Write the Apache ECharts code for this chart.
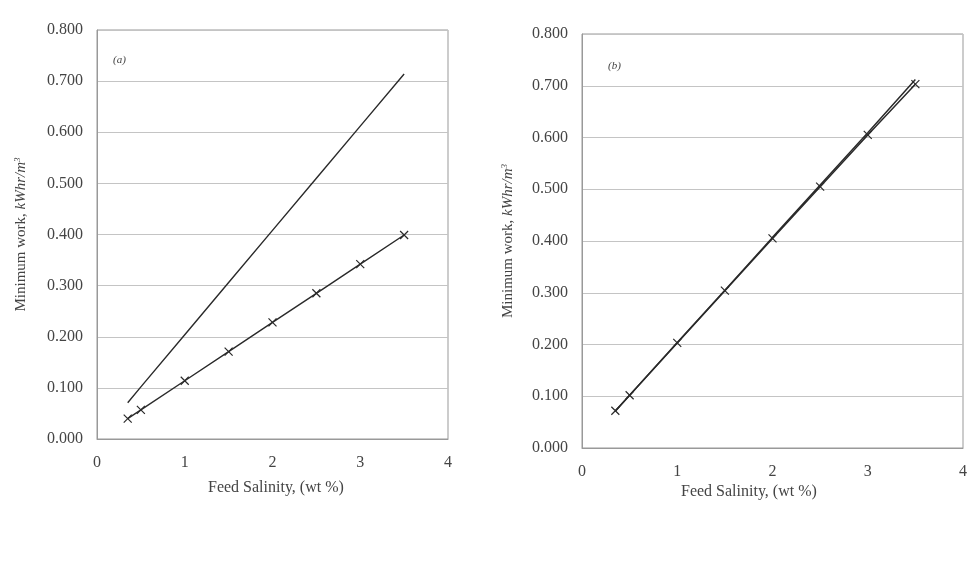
<!DOCTYPE html>
<html>
<head>
<meta charset="utf-8">
<script src="https://cdn.jsdelivr.net/npm/echarts@6/dist/echarts.min.js"></script>
<style>
  html, body { margin: 0; padding: 0; background: #fff; }
  #main { width: 977px; height: 570px; }
</style>
</head>
<body>
<div id="main"></div>
<script>
// feed salinity, wt %
const salinity = [0.35, 0.5, 1, 1.5, 2, 2.5, 3, 3.5];

// panel (a)
const aUpper = [0.071, 0.102, 0.204, 0.306, 0.408, 0.510, 0.612, 0.714];
const aLower = [0.040, 0.057, 0.114, 0.171, 0.228, 0.285, 0.342, 0.399];

// panel (b)
const bMarked = [0.072, 0.102, 0.203, 0.304, 0.405, 0.505, 0.605, 0.703];
const bPlain = [0.071, 0.102, 0.204, 0.305, 0.407, 0.508, 0.609, 0.712];

const panelLabels = ["(a)", "(b)"];
const xTitle = "Feed Salinity, (wt %)";

const font = "Liberation Serif";
const ink = "#2a2a2a";
const cross = "path://M0,0L10,10M10,0L0,10";

const pair = (ys) => salinity.map((x, i) => [x, ys[i]]);

const xAxisBase = (gridIndex) => ({
   type: "value",
   gridIndex,
   min: 0,
   max: 4,
   interval: 1,
   axisLine: { show: true, lineStyle: { color: "#999" } },
   axisTick: { show: false },
   splitLine: { show: false },
   axisLabel: { margin: 16, fontFamily: font, fontSize: 16, color: "#444" },
});

const yAxisBase = (gridIndex, gap) => ({
   type: "value",
   gridIndex,
   min: 0,
   max: 0.8,
   interval: 0.1,
   name: "Minimum work, {i|kWhr/m}{s|3}",
   nameLocation: "middle",
   nameGap: gap,
   nameTextStyle: {
      fontFamily: font,
      fontSize: 15,
      color: "#444",
      rich: {
         i: { fontFamily: font, fontSize: 15, fontStyle: "italic", color: "#444" },
         s: { fontFamily: font, fontSize: 9, fontStyle: "italic", color: "#444", verticalAlign: "top", padding: [0, 0, 8, 0] },
      },
   },
   axisLine: { show: true, lineStyle: { color: "#999" } },
   axisTick: { show: false },
   splitLine: { show: true, lineStyle: { color: "#c4c4c4" } },
   axisLabel: {
      margin: 14,
      fontFamily: font,
      fontSize: 16,
      color: "#444",
      formatter: (v) => v.toFixed(3),
   },
});

const lineSeries = (name, idx, ys, marked, width) => ({
   name,
   type: "line",
   xAxisIndex: idx,
   yAxisIndex: idx,
   data: pair(ys),
   showSymbol: marked,
   symbol: marked ? cross : "none",
   symbolSize: 8,
   lineStyle: { color: ink, width },
   itemStyle: { color: "rgba(0,0,0,0)", borderColor: ink, borderWidth: 1.2 },
   animation: false,
   z: marked ? 3 : 2,
});

const chart = echarts.init(document.getElementById("main"));

chart.setOption({
   backgroundColor: "#fff",
   animation: false,
   grid: [
      { left: 97, right: 529, top: 30, bottom: 131, show: true, borderColor: "#999", borderWidth: 1 },
      { left: 582, right: 14, top: 34, bottom: 122, show: true, borderColor: "#999", borderWidth: 1 },
   ],
   xAxis: [xAxisBase(0), xAxisBase(1)],
   yAxis: [yAxisBase(0, 67), yAxisBase(1, 65)],
   graphic: [
      {
         type: "text", left: 208, top: 480,
         style: { text: xTitle, font: "16px " + font, fill: "#444" },
      },
      {
         type: "text", left: 681, top: 484,
         style: { text: xTitle, font: "16px " + font, fill: "#444" },
      },
      {
         type: "text", left: 113, top: 55,
         style: { text: panelLabels[0], font: "italic 11px " + font, fill: "#444" },
      },
      {
         type: "text", left: 608, top: 61,
         style: { text: panelLabels[1], font: "italic 11px " + font, fill: "#444" },
      },
   ],
   series: [
      lineSeries("a upper", 0, aUpper, false, 1.4),
      lineSeries("a lower", 0, aLower, true, 1.4),
      lineSeries("b plain", 1, bPlain, false, 1.5),
      lineSeries("b marked", 1, bMarked, true, 1.5),
   ],
});
</script>
</body>
</html>
